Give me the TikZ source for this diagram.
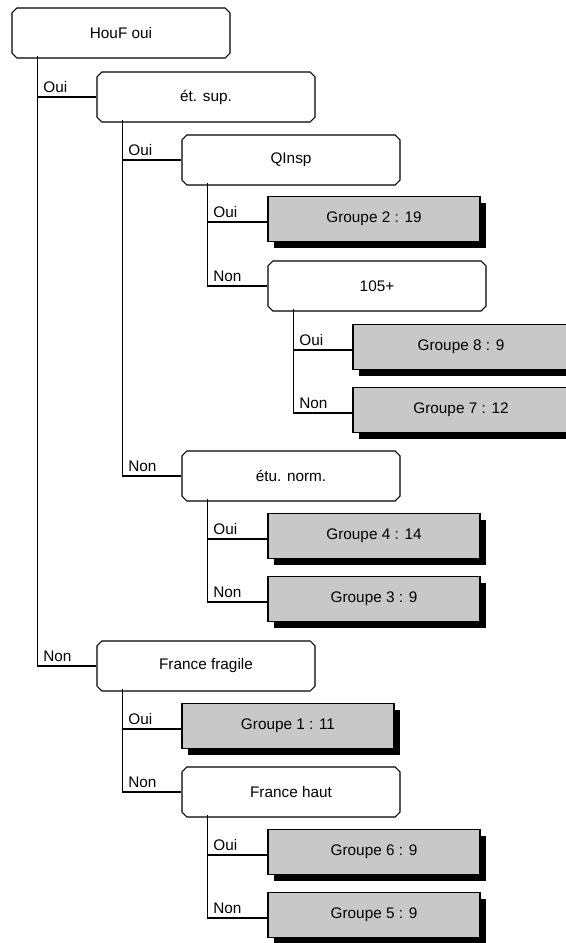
\documentclass[tikz,border=0pt]{standalone}
\usepackage{fontspec}
\setmainfont{Liberation Sans}
\usetikzlibrary{calc,shapes.misc,shadows}
\definecolor{leafgray}{HTML}{C8C8C8}

\begin{document}
\begin{tikzpicture}[
  x=0.75pt, y=-0.75pt,
  every node/.style={font=\fontsize{11.5}{13}\selectfont},
  crit/.style={chamfered rectangle, chamfered rectangle xsep=1.8pt,
    chamfered rectangle ysep=1.8pt, draw, line width=0.8pt, fill=white,
    minimum width=163.5pt, minimum height=37.5pt, inner sep=0pt},
  groupe/.style={rectangle, draw, line width=0.8pt, fill=leafgray,
    minimum width=159pt, minimum height=33.75pt, inner sep=0pt,
    drop shadow={shadow xshift=4.5pt, shadow yshift=-4.5pt, fill=black, opacity=1}},
  lbl/.style={anchor=south west, inner sep=0pt, xshift=4pt, yshift=3pt},
  link/.style={line width=0.8pt}
]
  % Frame
  \useasboundingbox (0,0) rectangle (565,943);

  % Criteria
  \node[crit] (houf)    at (121,33)  {HouF oui};
  \node[crit] (etsup)   at (206,97)  {ét. sup.};
  \node[crit] (qinsp)   at (291,160) {QInsp};
  \node[crit] (cent)    at (377,286) {105+};
  \node[crit] (etunorm) at (291,476) {étu. norm.};
  \node[crit] (frfrag)  at (206,666) {France fragile};
  \node[crit] (frhaut)  at (291,792) {France haut};

  % Groups (leaves)
  \node[groupe] (g2) at (374,219) {Groupe 2 : 19};
  \node[groupe, minimum width=162pt] (g8) at (461,347) {Groupe 8 : 9};
  \node[groupe, minimum width=162pt] (g7) at (461,410) {Groupe 7 : 12};
  \node[groupe] (g4) at (374,536) {Groupe 4 : 14};
  \node[groupe] (g3) at (374,599) {Groupe 3 : 9};
  \node[groupe] (g1) at (288,726) {Groupe 1 : 11};
  \node[groupe] (g6) at (374,852) {Groupe 6 : 9};
  \node[groupe] (g5) at (374,915) {Groupe 5 : 9};

  % Branches
  \draw[link] ($(houf.south west)+(23.5,0)$) |- (etsup.west) node[pos=0.5,lbl]{Oui};
  \draw[link] ($(houf.south west)+(23.5,0)$) |- (frfrag.west) node[pos=0.5,lbl]{Non};

  \draw[link] ($(etsup.south west)+(23.5,0)$) |- (qinsp.west) node[pos=0.5,lbl]{Oui};
  \draw[link] ($(etsup.south west)+(23.5,0)$) |- (etunorm.west) node[pos=0.5,lbl]{Non};

  \draw[link] ($(qinsp.south west)+(23.5,0)$) |- ([yshift=-2.25pt]g2.west) node[pos=0.5,lbl]{Oui};
  \draw[link] ($(qinsp.south west)+(23.5,0)$) |- (cent.west) node[pos=0.5,lbl]{Non};

  \draw[link] ($(cent.south west)+(23.5,0)$) |- ([yshift=-2.25pt]g8.west) node[pos=0.5,lbl]{Oui};
  \draw[link] ($(cent.south west)+(23.5,0)$) |- ([yshift=-2.25pt]g7.west) node[pos=0.5,lbl]{Non};

  \draw[link] ($(etunorm.south west)+(23.5,0)$) |- ([yshift=-2.25pt]g4.west) node[pos=0.5,lbl]{Oui};
  \draw[link] ($(etunorm.south west)+(23.5,0)$) |- ([yshift=-2.25pt]g3.west) node[pos=0.5,lbl]{Non};

  \draw[link] ($(frfrag.south west)+(23.5,0)$) |- ([yshift=-2.25pt]g1.west) node[pos=0.5,lbl]{Oui};
  \draw[link] ($(frfrag.south west)+(23.5,0)$) |- (frhaut.west) node[pos=0.5,lbl]{Non};

  \draw[link] ($(frhaut.south west)+(23.5,0)$) |- ([yshift=-2.25pt]g6.west) node[pos=0.5,lbl]{Oui};
  \draw[link] ($(frhaut.south west)+(23.5,0)$) |- ([yshift=-2.25pt]g5.west) node[pos=0.5,lbl]{Non};
\end{tikzpicture}
\end{document}
